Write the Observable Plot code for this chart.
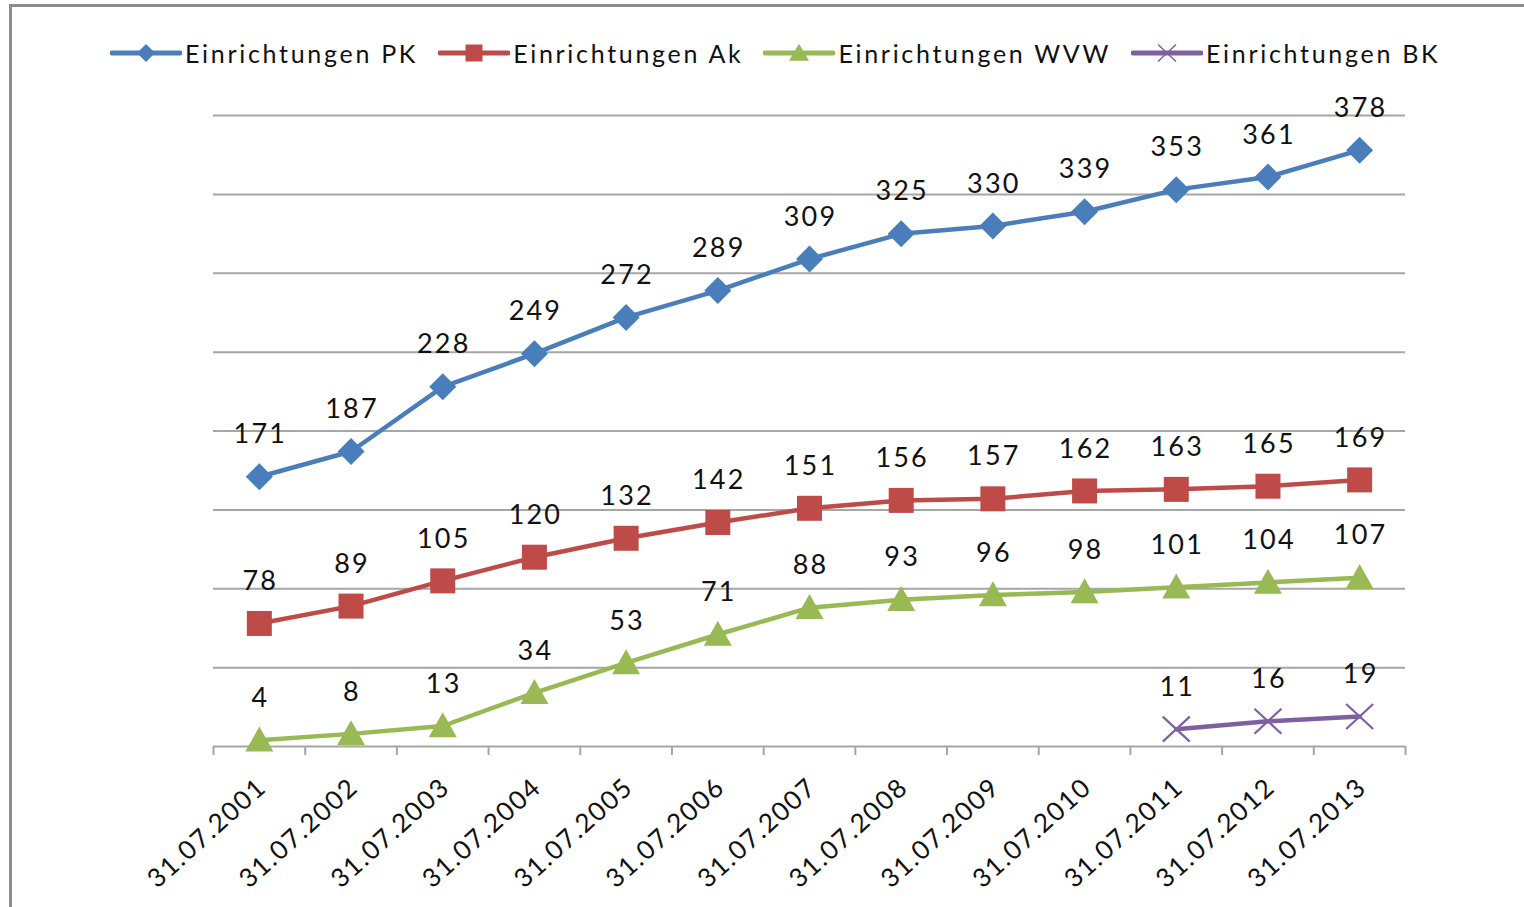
<!DOCTYPE html>
<html>
<head>
<meta charset="utf-8">
<script src="https://cdn.jsdelivr.net/npm/d3@7"></script>
<script src="https://cdn.jsdelivr.net/npm/@observablehq/plot@0.6"></script>
<style>
  html, body { margin: 0; padding: 0; background: #fff; overflow: hidden; }
  body { width: 1524px; height: 907px; position: relative; font-family: Lato, "Open Sans", sans-serif; }
  #frame { position: absolute; left: 9px; top: 4px; width: 1540px; height: 1000px;
           border: 3px solid #8c8c8c; border-right: none; border-bottom: none; box-sizing: border-box; }
  #legend { position: absolute; top: 35px; left: 110px; height: 36px; display: flex; align-items: center; gap: 20px; }
  .item { display: flex; align-items: center; }
  .item span { font-size: 25px; letter-spacing: 2.7px; color: #111; margin-left: 3px; line-height: 36px; }
  #chart { position: absolute; left: 0; top: 0; }
  #chart svg text { letter-spacing: 2.2px; }
  #chart svg text[transform*="rotate"] { letter-spacing: 1.6px; }
</style>
</head>
<body>
<div id="frame"></div>
<div id="legend"></div>
<div id="chart"></div>
<script>
// ---- data ----
const categories = ["31.07.2001","31.07.2002","31.07.2003","31.07.2004","31.07.2005","31.07.2006","31.07.2007","31.07.2008","31.07.2009","31.07.2010","31.07.2011","31.07.2012","31.07.2013"];
const seriesNames = ["Einrichtungen PK","Einrichtungen Ak","Einrichtungen WVW","Einrichtungen BK"];
const pkValues  = [171,187,228,249,272,289,309,325,330,339,353,361,378];
const akValues  = [78,89,105,120,132,142,151,156,157,162,163,165,169];
const wvwValues = [4,8,13,34,53,71,88,93,96,98,101,104,107];
const bkValues  = [null,null,null,null,null,null,null,null,null,null,11,16,19];
const gridValues = [50,100,150,200,250,300,350,400];

const colors = ["#4a7ebb","#be4b48","#98b954","#7d60a0"];

// custom symbols
const diamondSym = (h) => ({draw(ctx){ ctx.moveTo(0,-h); ctx.lineTo(h,0); ctx.lineTo(0,h); ctx.lineTo(-h,0); ctx.closePath(); }});
const squareSym = (s) => ({draw(ctx){ ctx.rect(-s/2,-s/2,s,s); }});
const triangleSym = (w,h) => ({draw(ctx){ ctx.moveTo(0,-h*0.55); ctx.lineTo(w/2,h*0.45); ctx.lineTo(-w/2,h*0.45); ctx.closePath(); }});
const timesSym = (w,h) => ({draw(ctx){ ctx.moveTo(-w/2,-h/2); ctx.lineTo(w/2,h/2); ctx.moveTo(w/2,-h/2); ctx.lineTo(-w/2,h/2); }});

const series = [
  {name: seriesNames[0], values: pkValues, color: colors[0], sym: diamondSym(13.5), filled: true},
  {name: seriesNames[1], values: akValues, color: colors[1], sym: squareSym(25), filled: true},
  {name: seriesNames[2], values: wvwValues, color: colors[2], sym: triangleSym(28,25), filled: true},
  {name: seriesNames[3], values: bkValues, color: colors[3], sym: timesSym(27,25), filled: false}
];

const rows = s => s.values.map((v,i) => ({i, v})).filter(d => d.v != null);
const boundaries = d3.range(categories.length + 1).map(i => i - 0.5);

const marks = [
  Plot.ruleY(gridValues, {stroke: "#a6a6a6", strokeWidth: 2}),
  Plot.ruleY([0], {stroke: "#a6a6a6", strokeWidth: 2}),
  Plot.axisX({ticks: boundaries, tickSize: 9, tickFormat: () => "", label: null, stroke: "#a6a6a6", strokeWidth: 2}),
  Plot.text(categories, {x: (d,i) => i, y: () => 0, text: d => d, rotate: -42, textAnchor: "end",
    dx: 3, dy: 37, fontSize: 26, fill: "#111"})
];
for (const s of series) {
  const data = rows(s);
  marks.push(Plot.line(data, {x: "i", y: "v", stroke: s.color, strokeWidth: 4.5}));
  marks.push(Plot.dot(data, {x: "i", y: "v", symbol: () => s.sym, r: 10,
    fill: s.filled ? s.color : "none", stroke: s.filled ? "none" : s.color, strokeWidth: 2.2}));
  marks.push(Plot.text(data, {x: "i", y: "v", text: d => String(d.v), dy: -42, dx: 1, fontSize: 27, fill: "#111"}));
}

const chart = Plot.plot({
  width: 1524,
  height: 907,
  marginLeft: 213,
  marginRight: 119,
  marginTop: 115,
  marginBottom: 161,
  style: {fontFamily: "Lato, 'Open Sans', sans-serif", background: "transparent"},
  x: {type: "linear", domain: [-0.5, categories.length - 0.5], axis: null, label: null},
  y: {domain: [0, 400], axis: null, label: null},
  symbol: {type: "identity"},
  marks
});
document.getElementById("chart").appendChild(chart);

// legend
const legend = document.getElementById("legend");
const legendSyms = [diamondSym(9), squareSym(17), triangleSym(20,17), timesSym(18,17)];
series.forEach((s, k) => {
  const item = document.createElement("div");
  item.className = "item";
  const svg = d3.create("svg").attr("width", 72).attr("height", 30);
  svg.append("line").attr("x1", 2).attr("x2", 70).attr("y1", 15).attr("y2", 15)
     .attr("stroke", s.color).attr("stroke-width", 5).attr("stroke-linecap", "round");
  const p = d3.path(); legendSyms[k].draw(p);
  svg.append("path").attr("d", p.toString()).attr("transform", "translate(36,15)")
     .attr("fill", s.filled ? s.color : "none").attr("stroke", s.filled ? "none" : s.color).attr("stroke-width", 1.5);
  item.appendChild(svg.node());
  const span = document.createElement("span");
  span.textContent = s.name;
  item.appendChild(span);
  legend.appendChild(item);
});
</script>
</body>
</html>
